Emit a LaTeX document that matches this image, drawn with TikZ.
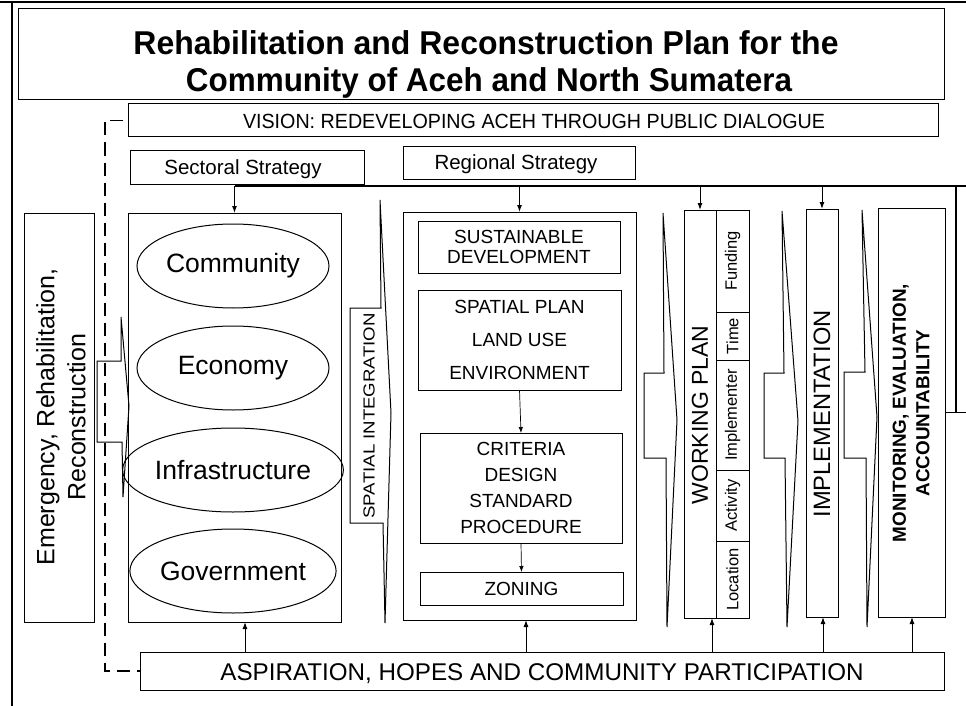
\documentclass[tikz,border=0pt]{standalone}
\usepackage{fontspec}
\setmainfont{Liberation Sans}
\usetikzlibrary{arrows.meta,shapes.geometric}
\newcommand{\fsz}[2]{\fontsize{#1}{#2}\selectfont}
\begin{document}
\begin{tikzpicture}[x=1pt,y=-1pt,
  box/.style={draw,line width=1pt,inner sep=0pt,outer sep=0pt},
  oval/.style={draw,ellipse,line width=1pt,minimum width=192pt,minimum height=84pt,inner sep=0pt,font=\fsz{26.5}{26.5}},
  lbl/.style={inner sep=0pt,outer sep=0pt,anchor=base},
  rlbl/.style={inner sep=0pt,outer sep=0pt,rotate=90,align=center},
  arr/.style={-{Latex[length=7pt,width=5pt]},line width=1pt},
  thinarr/.style={-{Latex[length=6pt,width=4.5pt]},line width=0.7pt},
  chevron/.style={draw,line width=1pt,line join=miter},
  feed/.style={line width=1.4pt},
  cell/.style={rlbl,font=\fsz{16.5}{16.5}},
  dashline/.style={line width=1.6pt,dash pattern=on 13pt off 7pt}
]
\useasboundingbox (0,0) rectangle (966,706);
\fill[white] (0,0) rectangle (966,706);

% frame
\draw[line width=1.6pt] (0,2) -- (966,2);
\draw[line width=1.2pt] (12,2) -- (12,706);

% title
\node[box,minimum width=926pt,minimum height=91pt] (title) at (481,54.5) {};
\node[lbl] (title1) at (486,55) {\fsz{33}{33}\bfseries\resizebox{705pt}{\height}{Rehabilitation and Reconstruction Plan for the}};
\node[lbl] (title2) at (489,92) {\fsz{33}{33}\bfseries\resizebox{606pt}{\height}{Community of Aceh and North Sumatera}};

% vision
\node[box,minimum width=810pt,minimum height=33pt] (vision) at (533,120.5) {};
\node[lbl] (visiontext) at (534,128.3) {\fsz{20.5}{20.5}\resizebox{582pt}{\height}{VISION: REDEVELOPING ACEH THROUGH PUBLIC DIALOGUE}};

% strategies
\node[box,minimum width=234pt,minimum height=34pt] (secstr) at (247,167) {};
\node[lbl] (secstrtext) at (243,175) {\fsz{20.5}{20.5}Sectoral Strategy};
\node[box,minimum width=232pt,minimum height=33pt] (regstr) at (519,162.5) {};
\node[lbl] (regstrtext) at (516,169.5) {\fsz{20.5}{20.5}Regional Strategy};

% emergency column
\node[box,minimum width=70pt,minimum height=409pt] (emerg) at (59,417.5) {};
\node[rlbl,font=\fsz{25}{31}] (emergtext) at (61,417) {Emergency, Rehabilitation,\\Reconstruction};

% sectoral column
\node[box,minimum width=213pt,minimum height=409pt] (sect) at (234.5,417.5) {};
\node[oval] (comm) at (233,266) {Community};
\node[oval] (econ) at (233,368) {Economy};
\node[oval] (infra) at (233,470) {Infrastructure};
\node[oval] (gov) at (233,571) {Government};

% regional column
\node[box,minimum width=233pt,minimum height=408pt] (reg) at (519.5,416) {};
\node[box,minimum width=202pt,minimum height=52pt,align=center,font=\fsz{19}{19.5}] (sust) at (519,247) {SUSTAINABLE\\DEVELOPMENT};
\node[box,minimum width=203pt,minimum height=100pt,align=center,font=\fsz{19}{33}] (splan) at (519.5,340) {SPATIAL PLAN\\LAND USE\\ENVIRONMENT};
\node[box,minimum width=202pt,minimum height=110pt,align=center,font=\fsz{19}{26.3}] (crit) at (521,488) {CRITERIA\\DESIGN\\STANDARD\\PROCEDURE};
\node[box,minimum width=203pt,minimum height=33pt,font=\fsz{19}{19}] (zon) at (521.5,588.5) {ZONING};
\draw[thinarr] (splan.south) -- (crit.north);
\draw[thinarr] (crit.south) -- (zon.north);

% working plan
\node[box,minimum width=32pt,minimum height=408pt] (wp) at (700,414) {};
\node[rlbl,font=\fsz{23}{23}] (wptext) at (700,415) {WORKING PLAN};
\node[box,minimum width=33pt,minimum height=102pt] (fund) at (732.5,261) {};
\node[cell] (fundtext) at (732.5,261) {Funding};
\node[box,minimum width=33pt,minimum height=48pt] (time) at (732.5,336) {};
\node[cell] (timetext) at (732.5,336) {Time};
\node[box,minimum width=33pt,minimum height=110pt] (implr) at (732.5,415) {};
\node[cell] (implrtext) at (732.5,415) {Implementer};
\node[box,minimum width=33pt,minimum height=71pt] (act) at (732.5,505.5) {};
\node[cell] (acttext) at (732.5,505.5) {Activity};
\node[box,minimum width=33pt,minimum height=77pt] (loc) at (732.5,579.5) {};
\node[cell] (loctext) at (732.5,579.5) {Location};

% implementation
\node[box,minimum width=32pt,minimum height=408pt] (impl) at (822,413) {};
\node[rlbl,font=\fsz{23.7}{23.7}] (impltext) at (822,414) {IMPLEMENTATION};

% monitoring
\node[box,minimum width=67pt,minimum height=409pt] (mon) at (911.5,412.5) {};
\node[rlbl,font=\fsz{18.9}{23.5}\bfseries] (montext) at (911,413) {MONITORING, EVALUATION,\\ACCOUNTABILITY};

% aspiration
\node[box,minimum width=804pt,minimum height=38pt] (asp) at (542,671) {};
\node[lbl] (asptext) at (542,680) {\fsz{24.2}{24.2}ASPIRATION, HOPES AND COMMUNITY PARTICIPATION};

% chevron arrows
\draw[chevron] (97,361) -- (121,361) -- (121,317) -- (129,406) -- (123,497) -- (122,442) -- (97,442) -- cycle;
\draw[chevron] (350,308) -- (381,308) -- (380,200) -- (391,413) -- (385,623) -- (383,523) -- (350,523) -- cycle;
\node[rlbl] (spattext) at (369,416) {\fsz{16}{16}\resizebox{205pt}{\height}{SPATIAL INTEGRATION}};
\draw[chevron] (644,373) -- (664,373) -- (663,213) -- (677,420) -- (667,627) -- (666,458) -- (644,458) -- cycle;
\draw[chevron] (764,373) -- (784,373) -- (782,211) -- (798,421) -- (787,627) -- (785,458) -- (764,458) -- cycle;
\draw[chevron] (844,372) -- (865,372) -- (862,210) -- (877,417) -- (867,627) -- (866,458) -- (844,458) -- cycle;

% top distribution line
\coordinate (tr) at (966,186);
\coordinate (fbk) at (956,186);
\draw[feed] (sect.north |- tr) -- (tr);
\draw[arr] (sect.north |- tr) -- (sect.north);
\draw[arr] (reg.north |- tr) -- (reg.north);
\draw[arr] (wp.north |- tr) -- (wp.north);
\draw[arr] (impl.north |- tr) -- (impl.north);
\draw[feed] (fbk) -- (fbk |- mon.east);
\draw[feed] (mon.east) -- (mon.east -| tr);

% bottom arrows
\draw[arr] ([xshift=10.5pt]sect.south |- asp.north) -- ([xshift=10.5pt]sect.south);
\draw[arr] ([xshift=6.5pt]reg.south |- asp.north) -- ([xshift=6.5pt]reg.south);
\draw[arr] ([xshift=12pt]wp.south |- asp.north) -- ([xshift=12pt]wp.south);
\draw[arr] ([xshift=1pt]impl.south |- asp.north) -- ([xshift=1pt]impl.south);
\draw[arr] ([xshift=0.5pt]mon.south |- asp.north) -- ([xshift=0.5pt]mon.south);

% dashed link
\draw[dashline] ([xshift=-5pt]vision.west) -- ++(-18,0) |- (asp.west);
\end{tikzpicture}
\end{document}
